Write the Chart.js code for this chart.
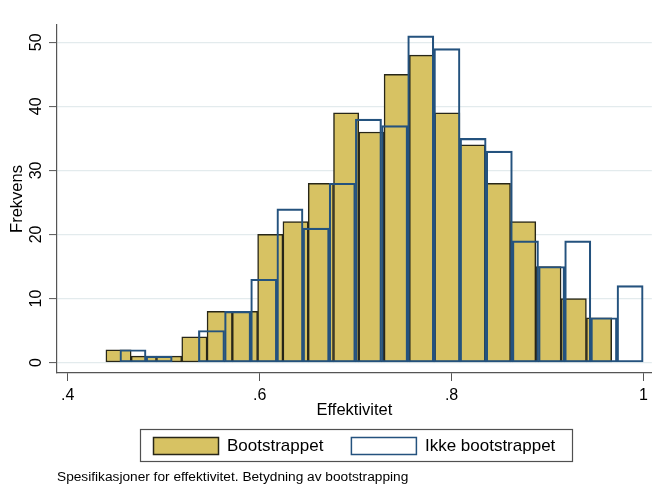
<!DOCTYPE html>
<html>
<head>
<meta charset="utf-8">
<script src="https://cdn.jsdelivr.net/npm/chart.js@4/dist/chart.umd.min.js"></script>
<style>
  html, body { margin: 0; padding: 0; background: #ffffff; }
  #wrap { width: 653px; height: 486px; }
</style>
</head>
<body>
<div id="wrap"><canvas id="c" width="653" height="486"></canvas></div>
<script>
// ---- data ----
const seriesNames = ['Bootstrappet', 'Ikke bootstrappet'];
const bootBinCenters = [0.45298, 0.47933, 0.50568, 0.53203, 0.55838, 0.58473, 0.61108, 0.63743, 0.66378, 0.69013,
                        0.71648, 0.74283, 0.76918, 0.79553, 0.82188, 0.84823, 0.87458, 0.90093, 0.92728, 0.95363];
const bootCounts = [2, 1, 1, 4, 8, 8, 20, 22, 28, 39, 36, 45, 48, 39, 34, 28, 22, 15, 10, 7];
const ikkeBinCenters = [0.46803, 0.49529, 0.52255, 0.54981, 0.57707, 0.60433, 0.63159, 0.65885, 0.68611, 0.71337,
                        0.74063, 0.76789, 0.79515, 0.82241, 0.84967, 0.87693, 0.90419, 0.93145, 0.95871, 0.98597];
const ikkeCounts = [2, 1, 0, 5, 8, 13, 24, 21, 28, 38, 37, 51, 49, 35, 33, 19, 15, 19, 7, 12];
const xTickValues = [0.4, 0.6, 0.8, 1.0];
const xTickLabels = ['.4', '.6', '.8', '1'];
const yTickValues = [0, 10, 20, 30, 40, 50];
const xTitle = 'Effektivitet';
const yTitle = 'Frekvens';
const noteText = 'Spesifikasjoner for effektivitet. Betydning av bootstrapping';

// ---- styling ----
const FONT = "'Liberation Sans', Arial, Helvetica, sans-serif";
const X_MIN = 0.38887, X_MAX = 1.00862;
const Y_MIN = -1.63, Y_MAX = 52.7;

const legendBorder = {
  id: 'legendBorder',
  afterDraw(chart) {
    const lg = chart.legend;
    if (!lg || !lg.legendHitBoxes || !lg.legendHitBoxes.length) return;
    const hb = lg.legendHitBoxes;
    let l = Infinity, r = -Infinity, t = Infinity, b = -Infinity;
    hb.forEach(h => { l = Math.min(l, h.left); r = Math.max(r, h.left + h.width); t = Math.min(t, h.top); b = Math.max(b, h.top + h.height); });
    const ctx = chart.ctx;
    ctx.save();
    ctx.strokeStyle = '#505050';
    ctx.lineWidth = 1.2;
    ctx.strokeRect(Math.round(l - 14) + 0.5, Math.round(t - 9) + 0.5, Math.round(r - l + 30), Math.round(b - t + 15));
    ctx.restore();
  }
};

new Chart(document.getElementById('c'), {
  type: 'bar',
  data: {
    datasets: [
      {
        label: seriesNames[0],
        data: bootBinCenters.map((x, i) => ({ x: x, y: bootCounts[i] })),
        xAxisID: 'x',
        backgroundColor: '#d7c263',
        borderColor: '#272618',
        borderWidth: 1.5,
        borderSkipped: false,
        barPercentage: 1,
        categoryPercentage: 1,
        grouped: false,
        order: 2
      },
      {
        label: seriesNames[1],
        data: ikkeBinCenters.map((x, i) => ({ x: x, y: ikkeCounts[i] })),
        xAxisID: 'x2',
        backgroundColor: 'rgba(255,255,255,0)',
        borderColor: '#24527e',
        borderWidth: 1.5,
        borderSkipped: false,
        barPercentage: 1,
        categoryPercentage: 1,
        grouped: false,
        order: 1
      }
    ]
  },
  options: {
    responsive: false,
    animation: false,
    devicePixelRatio: 1,
    layout: { padding: { top: 25, left: 0, right: 0, bottom: 0 } },
    scales: {
      x: {
        type: 'linear',
        position: 'bottom',
        min: X_MIN,
        max: X_MAX,
        offset: false,
        afterBuildTicks: s => { s.ticks = xTickValues.map(v => ({ value: v })); },
        afterFit: s => { s.height = 36.56; },
        grid: { display: true, offset: false, drawOnChartArea: false, drawTicks: true, tickLength: 8, tickColor: '#555555', tickWidth: 1 },
        border: { display: true, color: '#555555', width: 1.2 },
        ticks: {
          autoSkip: false, maxRotation: 0, minRotation: 0, padding: 5, color: '#000000',
          font: { family: FONT, size: 16 },
          callback: (v) => { const k = xTickValues.findIndex(t => Math.abs(t - v) < 1e-9); return k >= 0 ? xTickLabels[k] : ''; }
        },
        title: { display: true, text: xTitle, color: '#000000', font: { family: FONT, size: 16.5 }, padding: { top: 0, bottom: -10.8 } }
      },
      x2: {
        type: 'linear',
        min: X_MIN,
        max: X_MAX,
        offset: false,
        display: false,
        grid: { offset: false }
      },
      y: {
        type: 'linear',
        min: Y_MIN,
        max: Y_MAX,
        afterBuildTicks: s => { s.ticks = yTickValues.map(v => ({ value: v })); },
        afterFit: s => { s.width = 57; },
        grid: { color: '#e3ebed', lineWidth: 1.2, drawTicks: true, tickLength: 8, tickColor: '#555555', tickWidth: 1 },
        border: { display: true, color: '#555555', width: 1.2 },
        ticks: {
          minRotation: 90, maxRotation: 90, crossAlign: 'center', padding: 4, color: '#000000',
          font: { family: FONT, size: 16 }
        },
        title: { display: true, text: yTitle, color: '#000000', font: { family: FONT, size: 16.5 }, padding: { top: 8, bottom: 0 } }
      }
    },
    plugins: {
      legend: {
        display: true,
        position: 'bottom',
        fullSize: false,
        labels: {
          boxWidth: 65, boxHeight: 17, padding: 28, color: '#000000',
          font: { family: FONT, size: 17 },
          sort: (a, b) => a.datasetIndex - b.datasetIndex
        }
      },
      title: {
        display: true,
        text: noteText,
        position: 'bottom',
        align: 'start',
        fullSize: false,
        color: '#000000',
        font: { family: FONT, size: 13.7, weight: 'normal' },
        padding: { top: 4, bottom: 1 }
      },
      tooltip: { enabled: false }
    }
  },
  plugins: [legendBorder]
});
</script>
</body>
</html>
